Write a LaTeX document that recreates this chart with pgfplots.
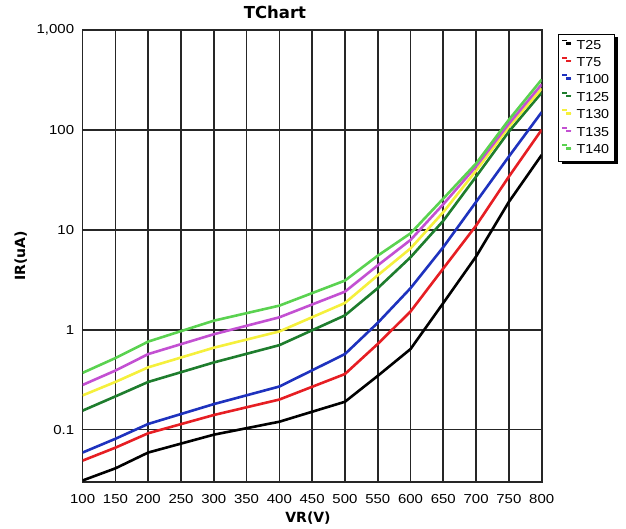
\documentclass[border=0pt]{standalone}
\usepackage{graphicx}
\usepackage{pgfplots}
\pgfplotsset{compat=1.18}
\usepackage{fontspec}
\setmainfont{Liberation Sans}
\newfontfamily\labfont{DejaVu Sans}
\usetikzlibrary{shadows}
\newcommand\w[1]{\scalebox{1.15}[1]{#1}}
\newcommand\wl[1]{\scalebox{1.1}[1]{#1}}
\definecolor{cT25}{RGB}{0,0,0}
\definecolor{cT75}{RGB}{230,30,35}
\definecolor{cT100}{RGB}{30,50,190}
\definecolor{cT125}{RGB}{30,125,45}
\definecolor{cT130}{RGB}{245,240,60}
\definecolor{cT135}{RGB}{195,80,210}
\definecolor{cT140}{RGB}{90,210,80}
\pgfplotstableread{
x T25 T75 T100 T125 T130 T135 T140
100 0.031 0.049 0.059 0.155 0.22 0.28 0.37
150 0.041 0.066 0.081 0.215 0.30 0.39 0.52
200 0.059 0.092 0.114 0.30 0.42 0.57 0.76
300 0.089 0.14 0.18 0.47 0.66 0.90 1.23
400 0.12 0.20 0.27 0.70 0.96 1.33 1.74
500 0.19 0.36 0.57 1.39 1.85 2.4 3.1
550 0.345 0.72 1.17 2.6 3.5 4.4 5.5
600 0.64 1.52 2.6 5.3 6.5 7.9 9.2
650 1.85 4.1 6.7 12.3 15 18 20.5
700 5.4 11 19 34 39 43 46
750 19 34 54 96 107 115 126
800 56 100 150 235 258 285 318
}\datatable
\begin{document}
\begin{tikzpicture}
\begin{axis}[
  scale only axis,
  width=459pt, height=452pt,
  ymode=log,
  xmin=100, xmax=800,
  ymin=0.03, ymax=1000,
  xtick={100,150,...,800},
  xticklabels={\w{100},\w{150},\w{200},\w{250},\w{300},\w{350},\w{400},\w{450},\w{500},\w{550},\w{600},\w{650},\w{700},\w{750},\w{800}},
  ytick={0.1,1,10,100,1000},
  yticklabels={\w{0.1},\w{1},\w{10},\w{100},\w{1,000}},
  xticklabel style={font=\fontsize{13}{13}\selectfont, yshift=-9pt},
  yticklabel style={font=\fontsize{13}{13}\selectfont, xshift=-5pt},
  major tick length=0pt,
  minor tick length=0pt,
  grid=major,
  major grid style={black!85, line width=1.7pt},
  axis line style={black!85, line width=1.7pt},
  title={\labfont\bfseries\fontsize{16.5}{16.5}\selectfont TChart},
  title style={at={(axis description cs:0.419,1.026)}, anchor=center},
  xlabel={\labfont\bfseries\fontsize{14}{14}\selectfont VR(V)},
  ylabel={\labfont\bfseries\fontsize{14}{14}\selectfont IR(uA)},
  xlabel style={at={(axis description cs:0.491,-0.0796)}, anchor=center},
  ylabel style={at={(axis description cs:-0.135,0.5)}, anchor=center},
  legend style={at={(rel axis cs:1.0355,0.9915)}, anchor=north west,
    draw=black, line width=0.8pt, fill=white,
    drop shadow={shadow xshift=4pt, shadow yshift=-3pt, fill=black, opacity=1},
    font=\fontsize{13}{13}\selectfont, row sep=2.9pt,
    inner xsep=3pt, inner ysep=4pt},
  legend cell align=left,
  legend image code/.code={\draw[#1, line width=1.8pt] (0pt,4.8pt) -- (5pt,4.8pt); \path (11pt,4.8pt);},
  every axis plot/.append style={line width=2.6pt, line join=round},
]
\addplot[color=cT25] table[x=x, y=T25] {\datatable};
\addlegendentry{\wl{T25}}
\addplot[color=cT75] table[x=x, y=T75] {\datatable};
\addlegendentry{\wl{T75}}
\addplot[color=cT100] table[x=x, y=T100] {\datatable};
\addlegendentry{\wl{T100}}
\addplot[color=cT125] table[x=x, y=T125] {\datatable};
\addlegendentry{\wl{T125}}
\addplot[color=cT130] table[x=x, y=T130] {\datatable};
\addlegendentry{\wl{T130}}
\addplot[color=cT135] table[x=x, y=T135] {\datatable};
\addlegendentry{\wl{T135}}
\addplot[color=cT140] table[x=x, y=T140] {\datatable};
\addlegendentry{\wl{T140}}
\coordinate (bbl) at (rel axis cs:-0.180,-0.104);
\coordinate (btr) at (rel axis cs:1.1837,1.066);
\end{axis}
\pgfresetboundingbox
\path (bbl) rectangle (btr);
\end{tikzpicture}
\end{document}
